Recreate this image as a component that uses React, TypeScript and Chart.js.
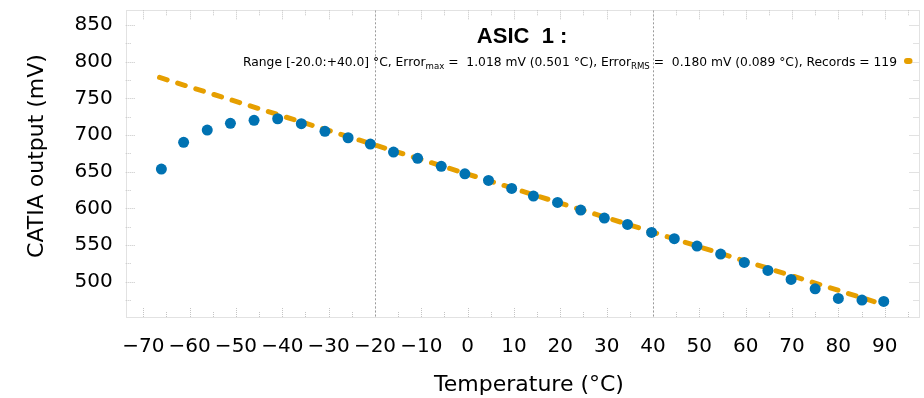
import React, { useEffect, useRef } from "react";
import { Chart, registerables } from "chart.js";

Chart.register(...registerables);

// ---- data ----
const temperatures = [
  -66.1, -61.3, -56.2, -51.2, -46.1, -41.0, -35.9, -30.8, -25.8, -21.0,
  -16.0, -10.8, -5.7, -0.6, 4.5, 9.5, 14.2, 19.4, 24.4, 29.5,
  34.5, 39.7, 44.6, 49.5, 54.6, 59.7, 64.8, 69.8, 75.0, 80.0,
  85.1, 89.8,
];
const outputs = [
  653.6, 690.0, 706.8, 715.9, 720.0, 722.2, 715.4, 705.0, 696.3, 687.7,
  676.8, 668.2, 657.3, 647.2, 638.2, 627.3, 616.8, 608.2, 597.7, 586.8,
  578.2, 567.3, 558.8, 548.6, 537.7, 526.4, 515.5, 503.2, 490.4, 477.3,
  475.0, 473.2,
];
const fitTemperatures = [-66.5, 89.8];
const fitOutputs = [778.5, 468.9];

const xTickValues = [-70, -60, -50, -40, -30, -20, -10, 0, 10, 20, 30, 40, 50, 60, 70, 80, 90];
const yTickValues = [500, 550, 600, 650, 700, 750, 800, 850];
const rangeLines = [-20, 40];

const titleText = "ASIC  1 :";
const subtitleParts = [
  { text: "Range [-20.0:+40.0] °C, Error", sub: false },
  { text: "max", sub: true },
  { text: " =  1.018 mV (0.501 °C), Error", sub: false },
  { text: "RMS", sub: true },
  { text: " =  0.180 mV (0.089 °C), Records = 119", sub: false },
];
const xTitle = "Temperature (°C)";
const yTitle = "CATIA output (mV)";

const BLUE = "#0072B2";
const ORANGE = "#E69F00";
const FONT = "'DejaVu Sans', sans-serif";

const fmt = (v: number) => (v < 0 ? "\u2212" + Math.abs(v) : String(v));

const decorPlugin = {
  id: "decor",
  beforeDatasetsDraw(chart: any) {
    const { ctx, chartArea: a, scales } = chart;
    const xs = scales.x;
    const ys = scales.y;
    ctx.save();
    // range lines
    ctx.strokeStyle = "#9a9a9a";
    ctx.lineWidth = 1;
    ctx.setLineDash([2, 2]);
    for (const v of rangeLines) {
      const px = Math.round(xs.getPixelForValue(v)) + 0.5;
      ctx.beginPath();
      ctx.moveTo(px, a.top);
      ctx.lineTo(px, a.bottom);
      ctx.stroke();
    }
    // frame
    ctx.strokeStyle = "#c4c4c4";
    ctx.setLineDash([1, 1]);
    ctx.strokeRect(Math.round(a.left) + 0.5, Math.round(a.top) + 0.5, Math.round(a.right - a.left), Math.round(a.bottom - a.top));
    // ticks
    for (let v = -70; v <= 95; v += 5) {
      const px = Math.round(xs.getPixelForValue(v)) + 0.5;
      const len = v % 10 === 0 ? 9 : 5;
      ctx.beginPath();
      ctx.moveTo(px, a.bottom);
      ctx.lineTo(px, a.bottom - len);
      ctx.moveTo(px, a.top);
      ctx.lineTo(px, a.top + len);
      ctx.stroke();
    }
    for (let v = 475; v <= 850; v += 25) {
      const py = Math.round(ys.getPixelForValue(v)) + 0.5;
      const len = v % 50 === 0 ? 9 : 5;
      ctx.beginPath();
      ctx.moveTo(a.left, py);
      ctx.lineTo(a.left + len, py);
      ctx.moveTo(a.right, py);
      ctx.lineTo(a.right - len, py);
      ctx.stroke();
    }
    ctx.restore();
  },
  afterDraw(chart: any) {
    const { ctx, chartArea: a } = chart;
    ctx.save();
    ctx.fillStyle = "#000";
    // title
    ctx.font = "bold 22px 'Liberation Sans', sans-serif";
    ctx.textAlign = "center";
    ctx.textBaseline = "alphabetic";
    ctx.fillText(titleText, (a.left + a.right) / 2, 43);
    // subtitle with subscripts
    const mainFont = "12.3px " + FONT;
    const subFont = "8.6px " + FONT;
    let total = 0;
    for (const p of subtitleParts) {
      ctx.font = p.sub ? subFont : mainFont;
      total += ctx.measureText(p.text).width;
    }
    let x = 897 - total;
    ctx.textAlign = "left";
    for (const p of subtitleParts) {
      ctx.font = p.sub ? subFont : mainFont;
      ctx.fillText(p.text, x, p.sub ? 69 : 66);
      x += ctx.measureText(p.text).width;
    }
    // legend sample
    ctx.strokeStyle = ORANGE;
    ctx.lineWidth = 6;
    ctx.lineCap = "round";
    ctx.beginPath();
    ctx.moveTo(907, 61);
    ctx.lineTo(909.5, 61);
    ctx.stroke();
    // axis titles
    ctx.fillStyle = "#000";
    ctx.font = "22px " + FONT;
    ctx.textAlign = "center";
    ctx.textBaseline = "alphabetic";
    ctx.fillText(xTitle, 529, 391);
    ctx.translate(37, 156);
    ctx.rotate(-Math.PI / 2);
    ctx.textBaseline = "middle";
    ctx.fillText(yTitle, 0, 0);
    ctx.restore();
  },
};

export default function App() {
  const ref = useRef<HTMLCanvasElement | null>(null);
  useEffect(() => {
    document.body.style.margin = "0";
    const canvas = ref.current;
    if (!canvas) return;
    const chart = new Chart(canvas, {
      type: "scatter",
      data: {
        datasets: [
          {
            label: "data",
            data: temperatures.map((t, i) => ({ x: t, y: outputs[i] })),
            backgroundColor: BLUE,
            borderWidth: 0,
            pointRadius: 5.5,
            pointHoverRadius: 5.5,
            showLine: false,
          },
          {
            label: "fit",
            data: fitTemperatures.map((t, i) => ({ x: t, y: fitOutputs[i] })),
            showLine: true,
            borderColor: ORANGE,
            borderWidth: 5,
            borderDash: [8, 11],
            borderCapStyle: "round",
            pointRadius: 0,
            fill: false,
          },
        ],
      } as any,
      options: {
        animation: false,
        responsive: false,
        events: [],
        layout: { padding: { top: 10.3, right: 2.3, left: 0, bottom: 0 } },
        plugins: { legend: { display: false }, tooltip: { enabled: false }, title: { display: false } },
        scales: {
          x: {
            type: "linear",
            min: -73.8,
            max: 97.3,
            grid: { display: false, drawTicks: false },
            border: { display: false },
            afterBuildTicks: (s: any) => {
              s.ticks = xTickValues.map((v) => ({ value: v }));
            },
            afterFit: (s: any) => {
              s.height = 81;
              s.paddingLeft = 0;
              s.paddingRight = 0;
              s.paddingTop = 0;
              s.paddingBottom = 0;
            },
            ticks: {
              autoSkip: false,
              maxRotation: 0,
              padding: 18,
              color: "#000",
              font: { family: FONT, size: 20 },
              callback: (v: any) => fmt(Number(v)),
            },
          },
          y: {
            type: "linear",
            min: 452,
            max: 870,
            grid: { display: false, drawTicks: false },
            border: { display: false },
            afterBuildTicks: (s: any) => {
              s.ticks = yTickValues.map((v) => ({ value: v }));
            },
            afterFit: (s: any) => {
              s.width = 125.7;
              s.paddingTop = 0;
              s.paddingBottom = 0;
              s.paddingLeft = 0;
              s.paddingRight = 0;
            },
            ticks: {
              autoSkip: false,
              padding: 13,
              color: "#000",
              font: { family: FONT, size: 20 },
              callback: (v: any) => fmt(Number(v)),
            },
          },
        },
      } as any,
      plugins: [decorPlugin],
    });
    return () => chart.destroy();
  }, []);
  return (
    <div style={{ position: "absolute", left: 0, top: 0, width: 924, height: 398 }}>
      <canvas ref={ref} width={924} height={398} style={{ width: 924, height: 398, display: "block" }} />
    </div>
  );
}
